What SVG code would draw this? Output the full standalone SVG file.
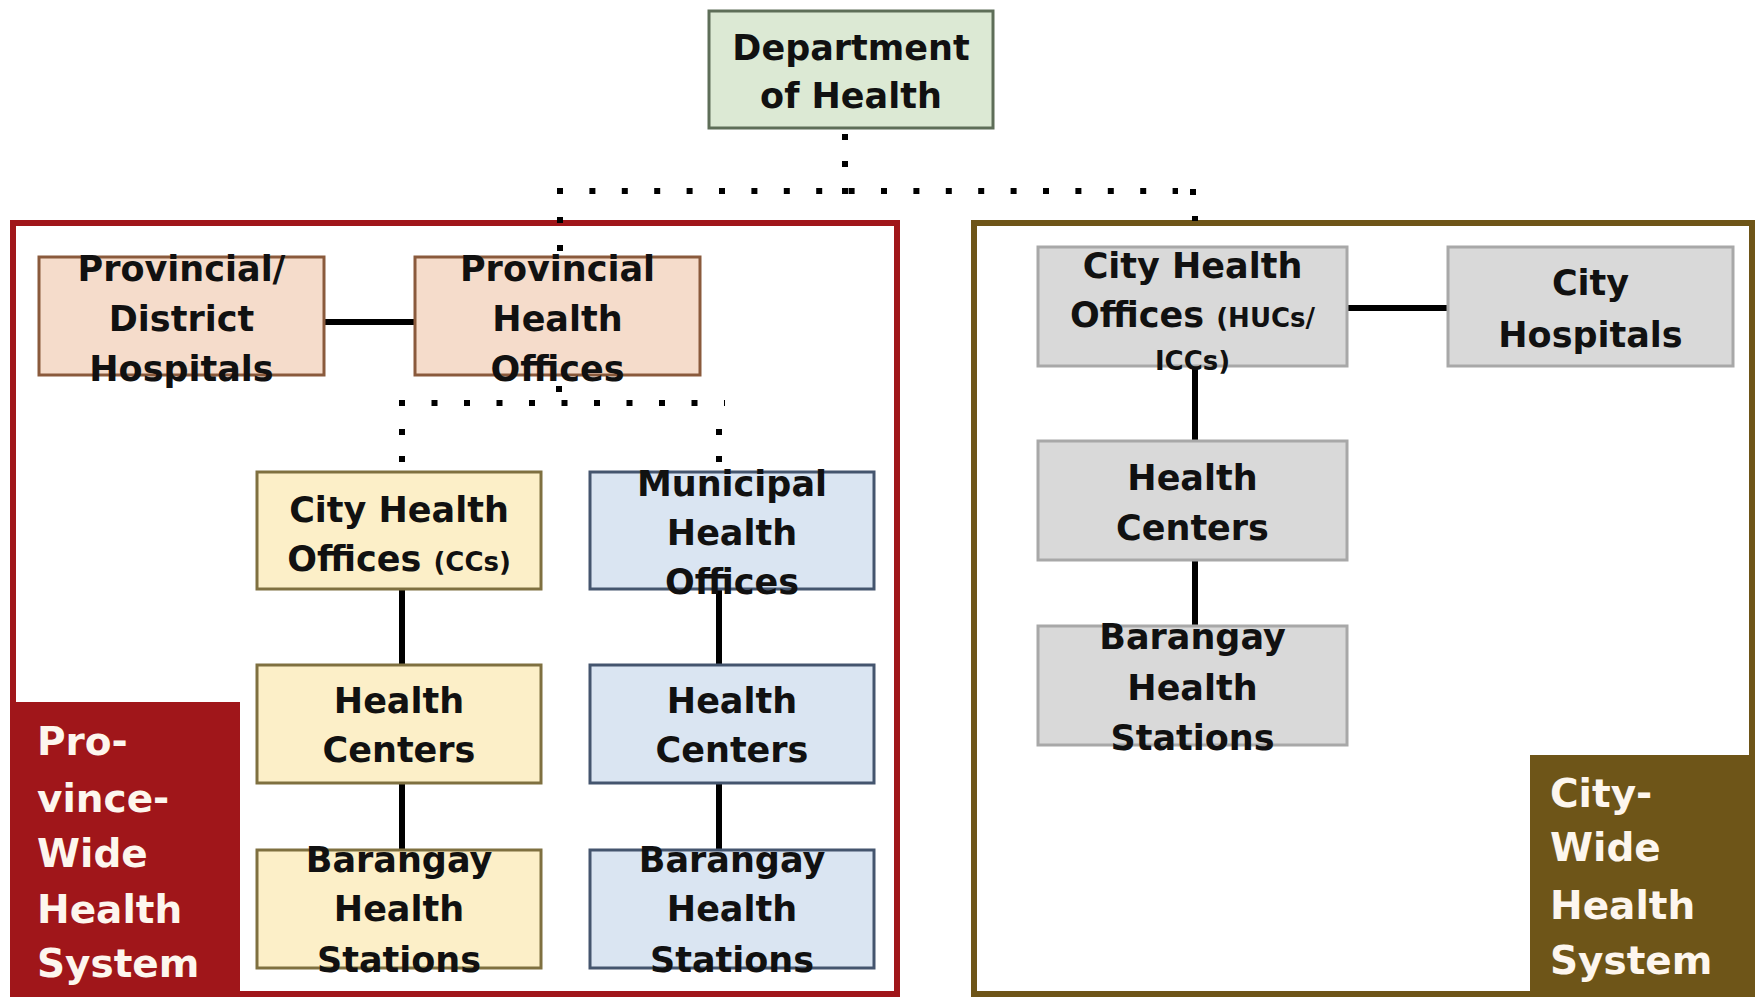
<svg xmlns="http://www.w3.org/2000/svg" width="1757" height="1001" viewBox="0 0 1757 1001">
<style>
  .t { font-family: "DejaVu Sans", "Liberation Sans", sans-serif; font-weight: bold; font-size: 35px; fill: #111; text-anchor: middle; }
  .s { font-size: 26px; }
  .lbl { font-family: "DejaVu Sans", "Liberation Sans", sans-serif; font-weight: bold; font-size: 39px; fill: #fdf6ee; }
  .green { fill: #dce9d4; stroke: #5e6e58; stroke-width: 3; }
  .peach { fill: #f5dccb; stroke: #8a5a3c; stroke-width: 3; }
  .yellow { fill: #fcefc8; stroke: #7f7040; stroke-width: 3; }
  .blue { fill: #dae5f2; stroke: #44556e; stroke-width: 3; }
  .gray { fill: #d9d9d9; stroke: #a8a8a8; stroke-width: 3; }
  .solid { stroke: #000; stroke-width: 6; fill: none; }
  .dot { stroke: #000; stroke-width: 6; fill: none; stroke-linecap: butt; }
</style>
<rect x="0" y="0" width="1757" height="1001" fill="#fff"/>

<g id="province-wide">
  <rect x="13" y="223" width="884" height="771" fill="none" stroke="#a0161a" stroke-width="6"/>
  <rect x="13" y="702" width="227" height="295" fill="#a0161a"/>
  <text class="lbl" x="37"><tspan x="37" y="755">Pro-</tspan><tspan x="37" y="812">vince-</tspan><tspan x="37" y="867">Wide</tspan><tspan x="37" y="923">Health</tspan><tspan x="37" y="977">System</tspan></text>
</g>

<g id="city-wide">
  <rect x="974" y="223" width="778" height="771" fill="none" stroke="#6e5518" stroke-width="6"/>
  <rect x="1530" y="755" width="225" height="242" fill="#6e5518"/>
  <text class="lbl"><tspan x="1550" y="807">City-</tspan><tspan x="1550" y="861">Wide</tspan><tspan x="1550" y="919">Health</tspan><tspan x="1550" y="974">System</tspan></text>
</g>

<g id="connectors">
  <path class="solid" d="M324 322 H415"/>
  <path class="solid" d="M1347 308 H1448"/>
  <path class="solid" d="M402 589 V665"/>
  <path class="solid" d="M402 783 V850"/>
  <path class="solid" d="M719 589 V665"/>
  <path class="solid" d="M719 783 V850"/>
  <path class="solid" d="M1195 366 V441"/>
  <path class="solid" d="M1195 560 V626"/>
  <path class="dot" d="M845 134 V194" stroke-dasharray="6 21"/>
  <path class="dot" d="M557 191 H1178" stroke-dasharray="6 26.4"/>
  <path class="dot" d="M1190 192 H1196"/>
  <path class="dot" d="M560 217 V251" stroke-dasharray="6 22"/>
  <path class="dot" d="M1195 216 V221"/>
  <path class="dot" d="M559 386 V392"/>
  <path class="dot" d="M399 403 H725" stroke-dasharray="6 26.5"/>
  <path class="dot" d="M402 429 V462" stroke-dasharray="6 21"/>
  <path class="dot" d="M719 429 V462" stroke-dasharray="6 21"/>
</g>

<g id="doh">
  <rect class="green" x="709" y="11" width="284" height="117"/>
  <text class="t"><tspan x="851" y="60">Department</tspan><tspan x="851" y="108">of Health</tspan></text>
</g>

<g id="provincial-district-hospitals">
  <rect class="peach" x="39" y="257" width="285" height="118"/>
  <text class="t"><tspan x="181.5" y="281">Provincial/</tspan><tspan x="181.5" y="331">District</tspan><tspan x="181.5" y="381">Hospitals</tspan></text>
</g>

<g id="provincial-health-offices">
  <rect class="peach" x="415" y="257" width="285" height="118"/>
  <text class="t"><tspan x="557.5" y="281">Provincial</tspan><tspan x="557.5" y="331">Health</tspan><tspan x="557.5" y="381">Offices</tspan></text>
</g>

<g id="city-health-offices-cc">
  <rect class="yellow" x="257" y="472" width="284" height="117"/>
  <text class="t"><tspan x="399" y="522">City Health</tspan><tspan x="399" y="571">Offices <tspan class="s">(CCs)</tspan></tspan></text>
</g>

<g id="municipal-health-offices">
  <rect class="blue" x="590" y="472" width="284" height="117"/>
  <text class="t"><tspan x="732" y="496">Municipal</tspan><tspan x="732" y="545">Health</tspan><tspan x="732" y="594">Offices</tspan></text>
</g>

<g id="health-centers-cc">
  <rect class="yellow" x="257" y="665" width="284" height="118"/>
  <text class="t"><tspan x="399" y="713">Health</tspan><tspan x="399" y="762">Centers</tspan></text>
</g>

<g id="health-centers-mun">
  <rect class="blue" x="590" y="665" width="284" height="118"/>
  <text class="t"><tspan x="732" y="713">Health</tspan><tspan x="732" y="762">Centers</tspan></text>
</g>

<g id="bhs-cc">
  <rect class="yellow" x="257" y="850" width="284" height="118"/>
  <text class="t"><tspan x="399" y="872">Barangay</tspan><tspan x="399" y="921">Health</tspan><tspan x="399" y="972">Stations</tspan></text>
</g>

<g id="bhs-mun">
  <rect class="blue" x="590" y="850" width="284" height="118"/>
  <text class="t"><tspan x="732" y="872">Barangay</tspan><tspan x="732" y="921">Health</tspan><tspan x="732" y="972">Stations</tspan></text>
</g>

<g id="city-health-offices-huc">
  <rect class="gray" x="1038" y="247" width="309" height="119"/>
  <text class="t"><tspan x="1192.5" y="278">City Health</tspan><tspan x="1192.5" y="327">Offices <tspan class="s">(HUCs/</tspan></tspan><tspan class="s" x="1192.5" y="370">ICCs)</tspan></text>
</g>

<g id="city-hospitals">
  <rect class="gray" x="1448" y="247" width="285" height="119"/>
  <text class="t"><tspan x="1590.5" y="295">City</tspan><tspan x="1590.5" y="347">Hospitals</tspan></text>
</g>

<g id="health-centers-city">
  <rect class="gray" x="1038" y="441" width="309" height="119"/>
  <text class="t"><tspan x="1192.5" y="490">Health</tspan><tspan x="1192.5" y="540">Centers</tspan></text>
</g>

<g id="bhs-city">
  <rect class="gray" x="1038" y="626" width="309" height="119"/>
  <text class="t"><tspan x="1192.5" y="649">Barangay</tspan><tspan x="1192.5" y="700">Health</tspan><tspan x="1192.5" y="750">Stations</tspan></text>
</g>
</svg>
